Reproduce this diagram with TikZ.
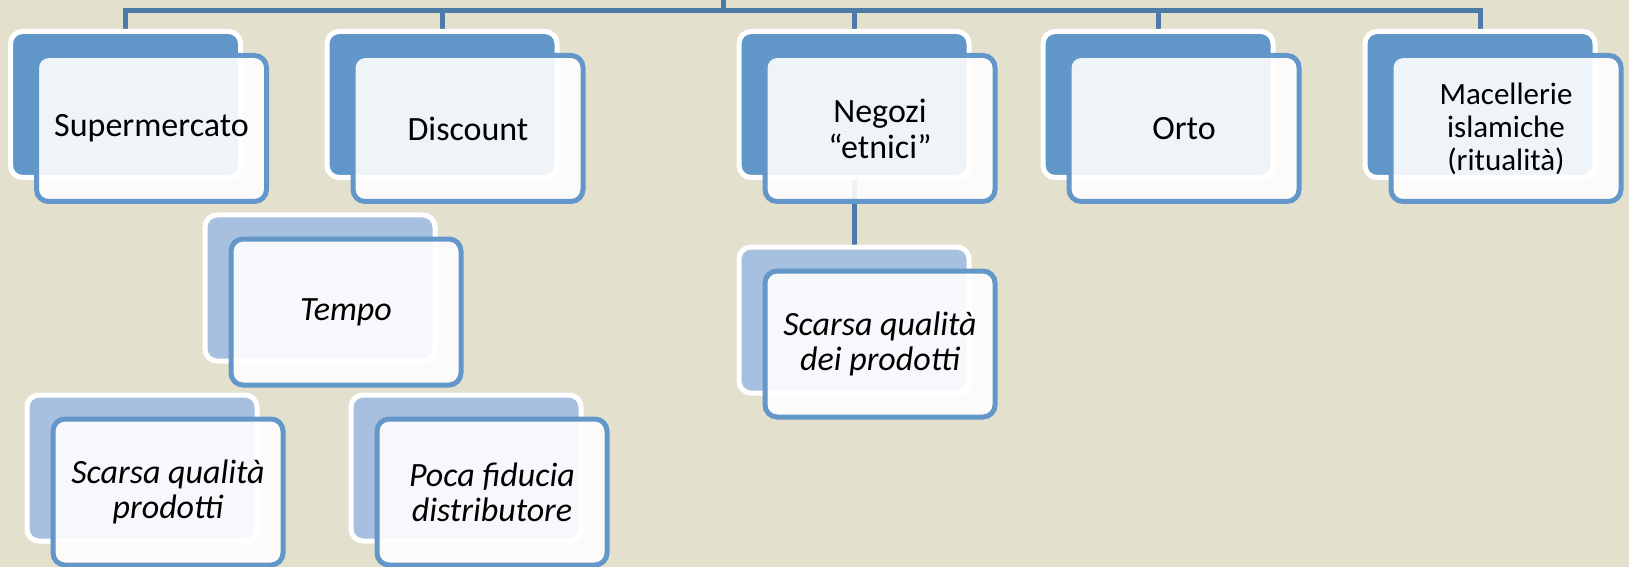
\documentclass[tikz,border=0pt]{standalone}
\usepackage{fontspec}
\setmainfont{Carlito}
\usetikzlibrary{shapes,positioning,calc}
\definecolor{sfondo}{RGB}{227,224,205}
\definecolor{blu}{RGB}{96,150,200}
\definecolor{bluchiaro}{RGB}{167,192,223}
\definecolor{bordo}{RGB}{100,151,201}
\definecolor{linea}{RGB}{78,122,168}
\pgfdeclarelayer{fondo}
\pgfdeclarelayer{linee}
\pgfsetlayers{fondo,linee,main}
\tikzset{
    cardback/.style={rectangle, draw=white, fill=blu, rounded corners=6pt, minimum width=115pt, minimum height=73pt, line width=2.5pt, inner sep=0pt, outer sep=0pt},
    cardbacklight/.style={cardback, fill=bluchiaro},
    cardfront/.style={rectangle, draw=bordo, fill=white, fill opacity=0.9, text opacity=1, rounded corners=6pt, minimum width=115pt, minimum height=73pt, line width=2.5pt, align=center, inner sep=0pt, outer sep=0pt, font=\fontsize{17}{18}\selectfont},
    cardfrontlight/.style={cardfront, font=\fontsize{17}{17.5}\selectfont\itshape},
    link/.style={draw=linea, line width=2.5pt}
}

\begin{document}
\begin{tikzpicture}[x=0.5pt, y=-0.5pt]
    \useasboundingbox (0,0) rectangle (1629,567);
    \begin{pgfonlayer}{fondo}
        \fill[sfondo] (0,0) rectangle (1629,567);
    \end{pgfonlayer}

    \node [cardback] (superback) at (125.5,104.5) {};
    \node [cardfront] (super) at ([shift={(26,24)}]superback) {Supermercato};
    \node [cardback] (discountback) at (442,104.5) {};
    \node [cardfront] (discount) at ([shift={(26,24)}]discountback) {Discount};
    \node [cardback] (negoziback) at (854,104.5) {};
    \node [cardfront] (negozi) at ([shift={(26,24)}]negoziback) {Negozi\\“etnici”};
    \node [cardback] (ortoback) at (1158,104.5) {};
    \node [cardfront] (orto) at ([shift={(26,24)}]ortoback) {Orto};
    \node [cardback] (macellback) at (1480,104.5) {};
    \node [cardfront, font=\fontsize{15.5}{16.5}\selectfont] (macell) at ([shift={(26,24)}]macellback) {Macellerie\\islamiche\\(ritualità)};

    \node [cardbacklight] (tempoback) at (320,288) {};
    \node [cardfrontlight] (tempo) at ([shift={(26,24)}]tempoback) {Tempo};
    \node [cardbacklight] (scarsaback) at (142,468) {};
    \node [cardfrontlight] (scarsa) at ([shift={(26,24)}]scarsaback) {Scarsa qualità\\prodotti};
    \node [cardbacklight] (pocaback) at (466,468) {};
    \node [cardfrontlight] (poca) at ([shift={(26,24)}]pocaback) {Poca fiducia\\distributore};
    \node [cardbacklight] (negscarsaback) at (854,320) {};
    \node [cardfrontlight] (negscarsa) at ([shift={(26,24)}]negscarsaback) {Scarsa qualità\\dei prodotti};

    \coordinate (root) at (723,0);
    \coordinate (hub) at (723,10.5);
    \begin{pgfonlayer}{linee}
        \path [link] (root) -- (hub);
        \foreach \n in {superback,discountback,negoziback,ortoback,macellback}
            \path [link] (hub) -| (\n.north);
        \path [link] (negoziback.south) -- (negscarsaback.north);
    \end{pgfonlayer}
\end{tikzpicture}
\end{document}
